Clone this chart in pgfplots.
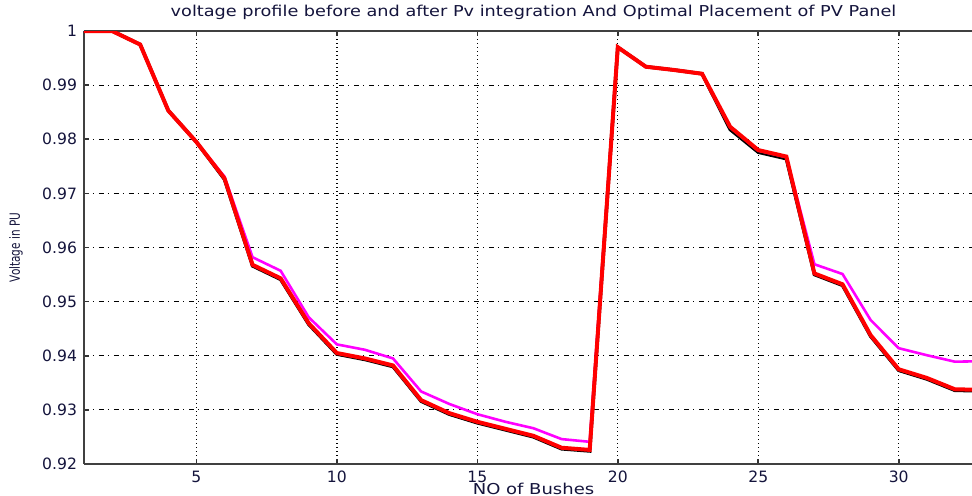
\documentclass[border=0pt]{standalone}
\usepackage{fontspec}
\setmainfont{DejaVu Sans}
\usepackage{pgfplots}
\pgfplotsset{compat=1.18}
\definecolor{mag}{RGB}{255,0,255}
\definecolor{pred}{RGB}{255,0,0}
\definecolor{txt}{RGB}{20,20,60}
\pgfplotstableread{
bus v
1 1.0000
2 1.0000
3 0.9975
4 0.9853
5 0.9795
6 0.9726
7 0.9566
8 0.9541
9 0.9458
10 0.9403
11 0.9393
12 0.9380
13 0.9316
14 0.9292
15 0.9276
16 0.9263
17 0.9250
18 0.9228
19 0.9224
20 0.9970
21 0.9934
22 0.9928
23 0.9921
24 0.9818
25 0.9776
26 0.9764
27 0.9550
28 0.9530
29 0.9436
30 0.9373
31 0.9357
32 0.9336
33 0.9335
}\before
\pgfplotstableread{
bus v
1 1.0000
2 1.0000
3 0.9975
4 0.9853
5 0.9795
6 0.9731
7 0.9582
8 0.9557
9 0.9471
10 0.9421
11 0.9411
12 0.9395
13 0.9334
14 0.9311
15 0.9292
16 0.9278
17 0.9266
18 0.9246
19 0.9241
20 0.9970
21 0.9934
22 0.9928
23 0.9921
24 0.9822
25 0.9779
26 0.9767
27 0.9569
28 0.9551
29 0.9466
30 0.9414
31 0.9401
32 0.9389
33 0.9390
}\after
\pgfplotstableread{
bus v
1 1.0000
2 1.0000
3 0.9975
4 0.9853
5 0.9795
6 0.9728
7 0.9568
8 0.9543
9 0.9460
10 0.9405
11 0.9395
12 0.9382
13 0.9318
14 0.9294
15 0.9278
16 0.9265
17 0.9252
18 0.9230
19 0.9226
20 0.9970
21 0.9934
22 0.9928
23 0.9921
24 0.9823
25 0.9780
26 0.9768
27 0.9552
28 0.9532
29 0.9438
30 0.9375
31 0.9359
32 0.9338
33 0.9337
}\optimal
\begin{document}
\begin{tikzpicture}
\begin{axis}[
  scale only axis,
  width=449.5pt, height=216.5pt,
  xmin=1, xmax=33, ymin=0.92, ymax=1,
  xtick={5,10,...,30},
  ytick={0.92,0.93,...,1.001},
  yticklabels={0.92,0.93,0.94,0.95,0.96,0.97,0.98,0.99,1},
  /pgf/number format/assume math mode=true,
  ticklabel style={font=\fontsize{7.8}{8}\selectfont, text=txt},
  axis x line*=box, axis y line*=left,
  axis line style={black!75, line width=0.9pt},
  tick style={black!80, line width=0.8pt},
  major tick length=2.5pt,
  tick align=inside,
  grid=major,
  x grid style={black, line width=0.7pt, dash pattern=on 0.6pt off 1.4pt},
  y grid style={black, line width=0.6pt, dash pattern=on 2.5pt off 2pt on 0.7pt off 2.3pt},
  xlabel={\scalebox{1.2}[1]{NO of Bushes}},
  xlabel style={font=\fontsize{7.5}{8}\selectfont, text=txt, at={(axis description cs:0.5,0)}, anchor=center, yshift=-12.5pt},
  ylabel={\scalebox{0.75}[1]{Voltage in PU}},
  ylabel style={font=\fontsize{7}{8}\selectfont, text=txt, at={(axis description cs:0,0.5)}, anchor=center, rotate=0, yshift=34pt},
]
\addplot[black, line width=1.7pt] table[x=bus, y=v] {\before};
\addplot[mag, line width=1.3pt] table[x=bus, y=v] {\after};
\addplot[pred, line width=2pt] table[x=bus, y=v] {\optimal};
\end{axis}
\node[font=\fontsize{7.5}{8}\selectfont, text=txt, anchor=center] at ([yshift=9.5pt]current axis.north) {\scalebox{1.18}[1]{voltage profile before and after Pv integration And Optimal Placement of PV Panel}};
\pgfresetboundingbox
\useasboundingbox (-42pt,-16pt) rectangle (444pt,232pt);
\end{tikzpicture}
\end{document}
